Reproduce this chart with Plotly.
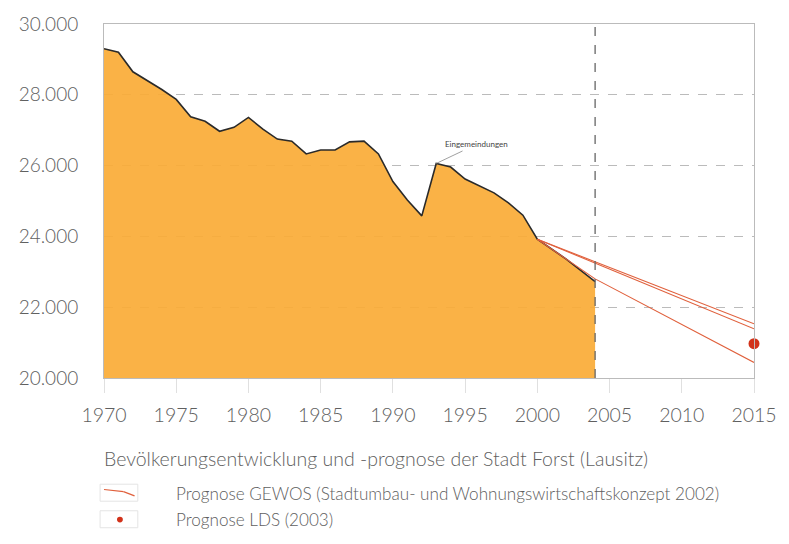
import plotly.graph_objects as go

# Historical population (Stadt Forst, Lausitz)
years = [1970, 1971, 1972, 1973, 1974, 1975, 1976, 1977, 1978, 1979, 1980, 1981,
         1982, 1983, 1984, 1985, 1986, 1987, 1988, 1989, 1990, 1991, 1992, 1993,
         1994, 1995, 1996, 1997, 1998, 1999, 2000, 2001, 2002, 2003, 2004]
population = [29300, 29200, 28650, 28400, 28150, 27870, 27380, 27250, 26970, 27080,
              27360, 27030, 26750, 26690, 26330, 26440, 26440, 26670, 26690, 26330,
              25550, 25030, 24580, 26060, 25960, 25620, 25420, 25230, 24950, 24600,
              23920, 23640, 23360, 23040, 22720]

# GEWOS projections (three variants)
gewos_years = [2000, 2015]
gewos_a = [23920, 21530]
gewos_b = [23920, 21390]
gewos_c_years = [2000, 2004, 2015]
gewos_c = [23920, 22800, 20440]

# LDS projection
lds_year = [2015]
lds_value = [20970]

x_ticks = [1970, 1975, 1980, 1985, 1990, 1995, 2000, 2005, 2010, 2015]
y_ticks = [20000, 22000, 24000, 26000, 28000, 30000]
y_tick_text = ["20.000", "22.000", "24.000", "26.000", "28.000", "30.000"]

caption = "Bevölkerungsentwicklung und -prognose der Stadt Forst (Lausitz)"
legend_gewos = "Prognose GEWOS (Stadtumbau- und Wohnungswirtschaftskonzept 2002)"
legend_lds = "Prognose LDS (2003)"
note = "Eingemeindungen"

FONT = "Lato"
TXT = "#606060"
RED = "#e0603c"
W = 300

fig = go.Figure()
fig.add_trace(go.Scatter(x=years, y=population, mode="lines", fill="tozeroy",
                         fillcolor="rgba(250,172,56,0.93)",
                         line=dict(color="#2a2a2a", width=1.6),
                         showlegend=False, hoverinfo="skip"))
for xs, ys in [(gewos_years, gewos_a), (gewos_years, gewos_b), (gewos_c_years, gewos_c)]:
    fig.add_trace(go.Scatter(x=xs, y=ys, mode="lines",
                             line=dict(color=RED, width=1.1),
                             showlegend=False))
fig.add_trace(go.Scatter(x=lds_year, y=lds_value, mode="markers",
                         marker=dict(color="#d2321a", size=11),
                         cliponaxis=False, showlegend=False))

# dashed line at end of observed data
fig.add_vline(x=years[-1], line=dict(color="#666666", width=1.3, dash="dash"))

fig.add_annotation(x=1993, y=26060, text=note, showarrow=True, arrowhead=0,
                   arrowwidth=0.8, arrowcolor="#888888", ax=40, ay=-19,
                   font=dict(family=FONT, size=8, color="#444444"))

# caption and legend (below chart)
fig.add_annotation(xref="paper", yref="paper", x=-0.003, y=-0.228, xanchor="left",
                   yanchor="middle", showarrow=False, text=caption,
                   font=dict(family=FONT, size=19.5, color=TXT, weight=W))
fig.add_annotation(xref="paper", yref="paper", x=0.108, y=-0.325, xanchor="left",
                   yanchor="middle", showarrow=False, text=legend_gewos,
                   font=dict(family=FONT, size=17.1, color=TXT, weight=W))
fig.add_annotation(xref="paper", yref="paper", x=0.108, y=-0.4, xanchor="left",
                   yanchor="middle", showarrow=False, text=legend_lds,
                   font=dict(family=FONT, size=17.1, color=TXT, weight=W))
# legend icons with faint boxes
fig.add_shape(type="rect", xref="paper", yref="paper", x0=-0.006, y0=-0.348,
              x1=0.052, y1=-0.300, line=dict(color="#e4e4e4", width=1))
fig.add_shape(type="rect", xref="paper", yref="paper", x0=-0.006, y0=-0.423,
              x1=0.052, y1=-0.375, line=dict(color="#e4e4e4", width=1))
fig.add_shape(type="line", xref="paper", yref="paper", x0=0.0, y0=-0.315,
              x1=0.03, y1=-0.321, line=dict(color=RED, width=1.2))
fig.add_shape(type="line", xref="paper", yref="paper", x0=0.03, y0=-0.321,
              x1=0.047, y1=-0.333, line=dict(color=RED, width=1.2))
fig.add_shape(type="circle", xref="paper", yref="paper", x0=0.0200, y0=-0.408,
              x1=0.0290, y1=-0.392, fillcolor="#d2321a", line=dict(width=0))

fig.update_layout(
    width=789, height=544,
    margin=dict(l=104, r=32, t=18, b=166),
    paper_bgcolor="white", plot_bgcolor="white",
    font=dict(family=FONT, color=TXT),
    showlegend=False,
    xaxis=dict(range=[1970, 2015], tickvals=x_ticks, showgrid=False,
               showline=True, linecolor="#bbbbbb", linewidth=1, mirror=True,
               ticks="outside", ticklen=14, tickcolor="#e0e0e0",
               ticklabelstandoff=6,
               tickfont=dict(family=FONT, size=19.5, color=TXT, weight=W), zeroline=False),
    yaxis=dict(range=[20000, 30000], tickvals=y_ticks, ticktext=y_tick_text,
               showgrid=True, gridcolor="#bbbbbb", griddash="dash", gridwidth=1,
               showline=True, linecolor="#bbbbbb", linewidth=1, mirror=True,
               ticks="", ticklabelstandoff=21,
               tickfont=dict(family=FONT, size=19, color=TXT, weight=W), zeroline=False),
)

fig.write_html("out.html")
